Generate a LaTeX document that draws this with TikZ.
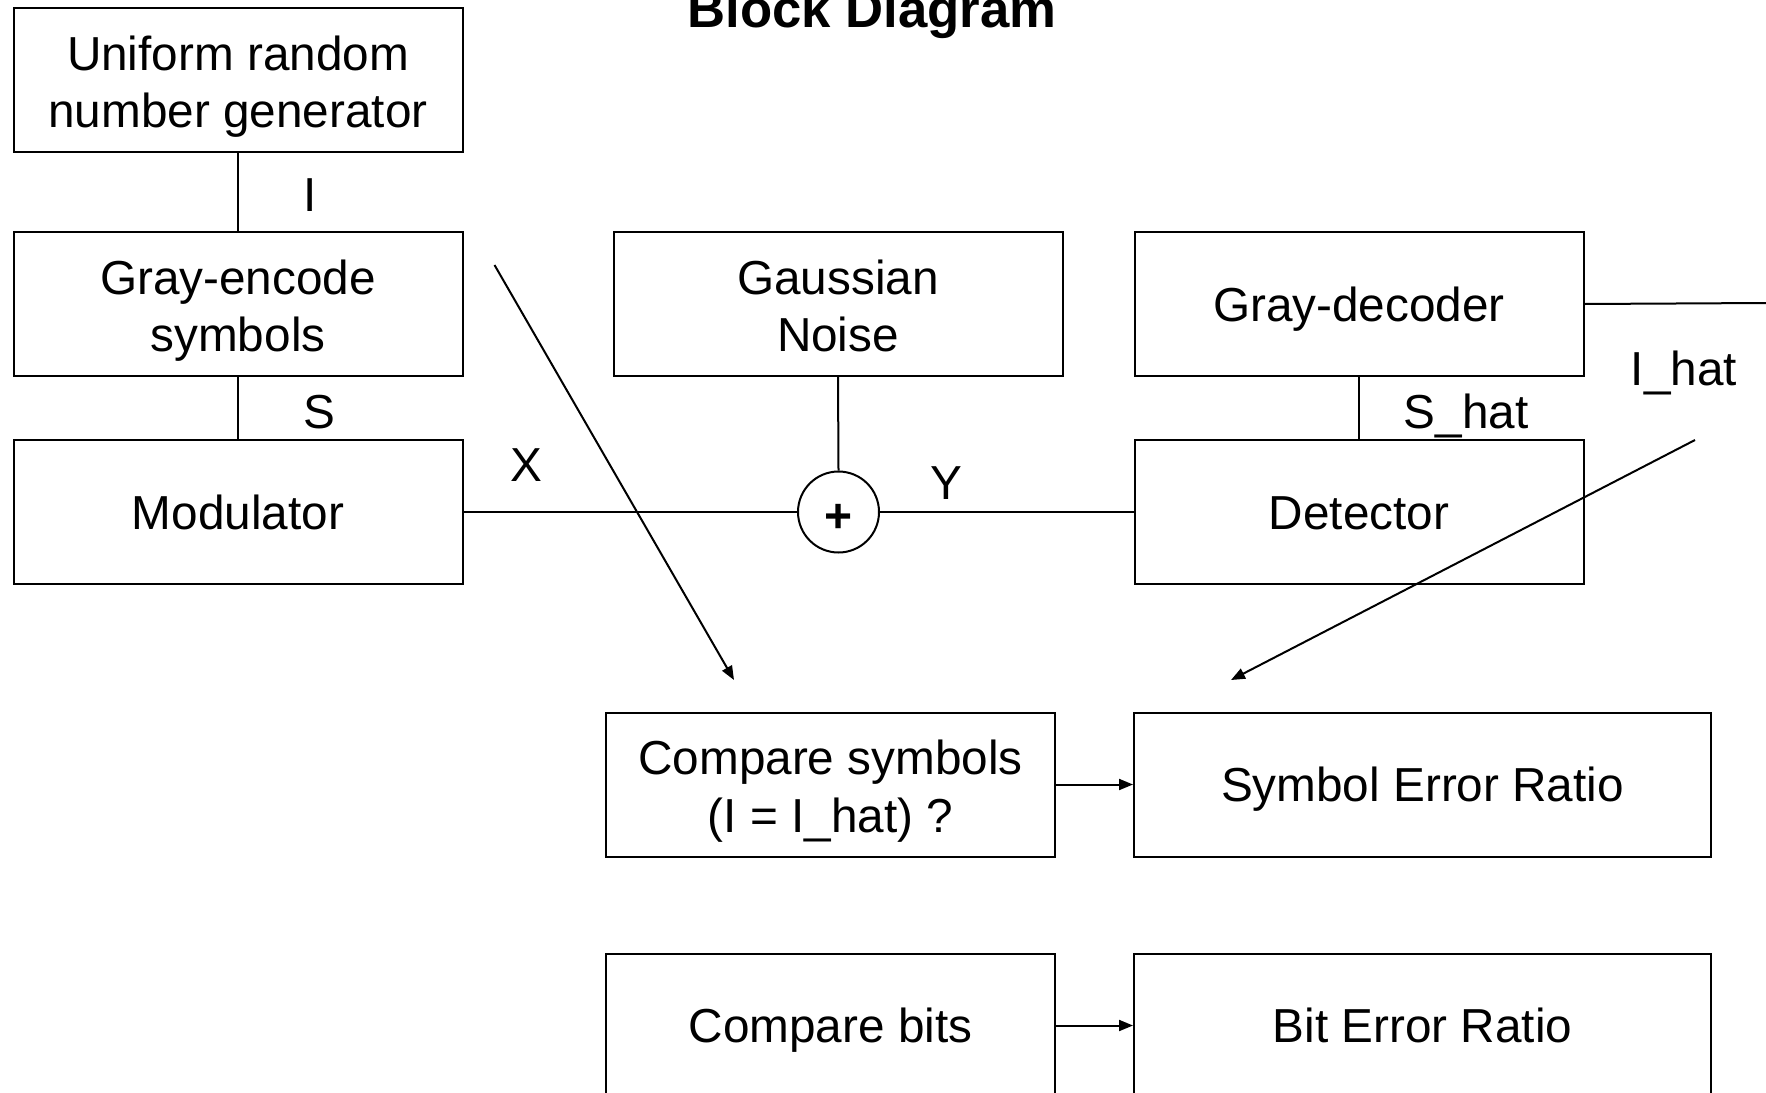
\documentclass[tikz,border=0pt]{standalone}
\usepackage{fontspec}
\setmainfont{Liberation Sans}
\usetikzlibrary{arrows.meta}
% fixed line box so that single-line text sits the same whatever its descenders
\newcommand{\linebox}{\rule[-0.21em]{0pt}{1.15em}}
% two centred lines with a fixed first-row height
\newcommand{\twolines}[2]{\begin{tabular}{@{}c@{}}\rule{0pt}{27.6pt}#1\\#2\end{tabular}}

\begin{document}
\begin{tikzpicture}[x=0.5pt,y=-0.5pt,
  blk/.style={draw,line width=1pt,minimum width=224.5pt,minimum height=72pt,
    align=center,inner sep=0pt,font=\fontsize{23.85}{28.9}\selectfont,
    execute at begin node=\linebox,execute at end node=\linebox},
  wide/.style={minimum width=288.5pt},
  lbl/.style={anchor=base,inner sep=0pt,font=\fontsize{23.85}{29.3}\selectfont},
  wire/.style={line width=1pt},
  arr/.style={line width=1pt,-{Triangle[length=7pt,width=5.5pt]}}]
\useasboundingbox (0,0) rectangle (1766,1092);
\clip (0,0) rectangle (1766,1092);

% title
\node[anchor=base,inner sep=0pt,font=\bfseries\fontsize{26.35}{30}\selectfont] (title) at (872,27) {Block Diagram};

% transmitter chain
\node[blk] (urng) at (238,80) {\twolines{Uniform random}{number generator}};
\node[blk] (genc) at (238,304) {\twolines{Gray-encode}{symbols}};
\node[blk] (mod)  at (238,512) {Modulator};

% channel
\node[blk] (noise) at (838,304) {\twolines{Gaussian}{Noise}};
\node[draw,circle,line width=1pt,minimum size=40.5pt,inner sep=0pt] (sum) at (838.5,512) {};
\node[inner sep=0pt,font=\bfseries\fontsize{24}{24}\selectfont] (plus) at (838.5,518) {+};

% receiver chain
\node[blk] (gdec) at (1359,304) {Gray-decoder};
\node[blk] (det)  at (1359,512) {Detector};

% error measurement
\node[blk] (cmps)     at (830.5,784.5) {\twolines{Compare symbols}{(I = I\_hat) ?}};
\node[blk,wide] (ser) at (1422.5,784.5) {Symbol Error Ratio};
\node[blk] (cmpb)     at (830.5,1025.5) {Compare bits};
\node[blk,wide] (ber) at (1422.5,1025.5) {Bit Error Ratio};

% signal labels
\node[lbl] (lI)    at (310,211) {I};
\node[lbl] (lS)    at (319,428) {S};
\node[lbl] (lX)    at (526,481) {X};
\node[lbl] (lY)    at (946,499) {Y};
\node[lbl] (lShat) at (1466,428) {S\_hat};
\node[lbl] (lIhat) at (1684,385) {I\_hat};

% connections
\draw[wire] (urng.south) -- (genc.north);
\draw[wire] (genc.south) -- (mod.north);
\draw[wire] (mod.east) -- (sum.west);
\draw[wire] (noise.south) -- (sum.north);
\draw[wire] (sum.east) -- (det.west);
\draw[wire] (gdec.south) -- (det.north);
\coordinate (ihatout) at (1766,303);
\draw[wire] (gdec.east) -- (ihatout);

\coordinate (itap) at (494.5,265);
\coordinate (ihit) at (734,680);
\draw[arr] (itap) -- (ihit);
\coordinate (ihattap) at (1695,440);
\coordinate (ihathit) at (1231,680);
\draw[arr] (ihattap) -- (ihathit);

\draw[arr] (cmps) -- (ser);
\draw[arr] (cmpb) -- (ber);
\end{tikzpicture}
\end{document}
